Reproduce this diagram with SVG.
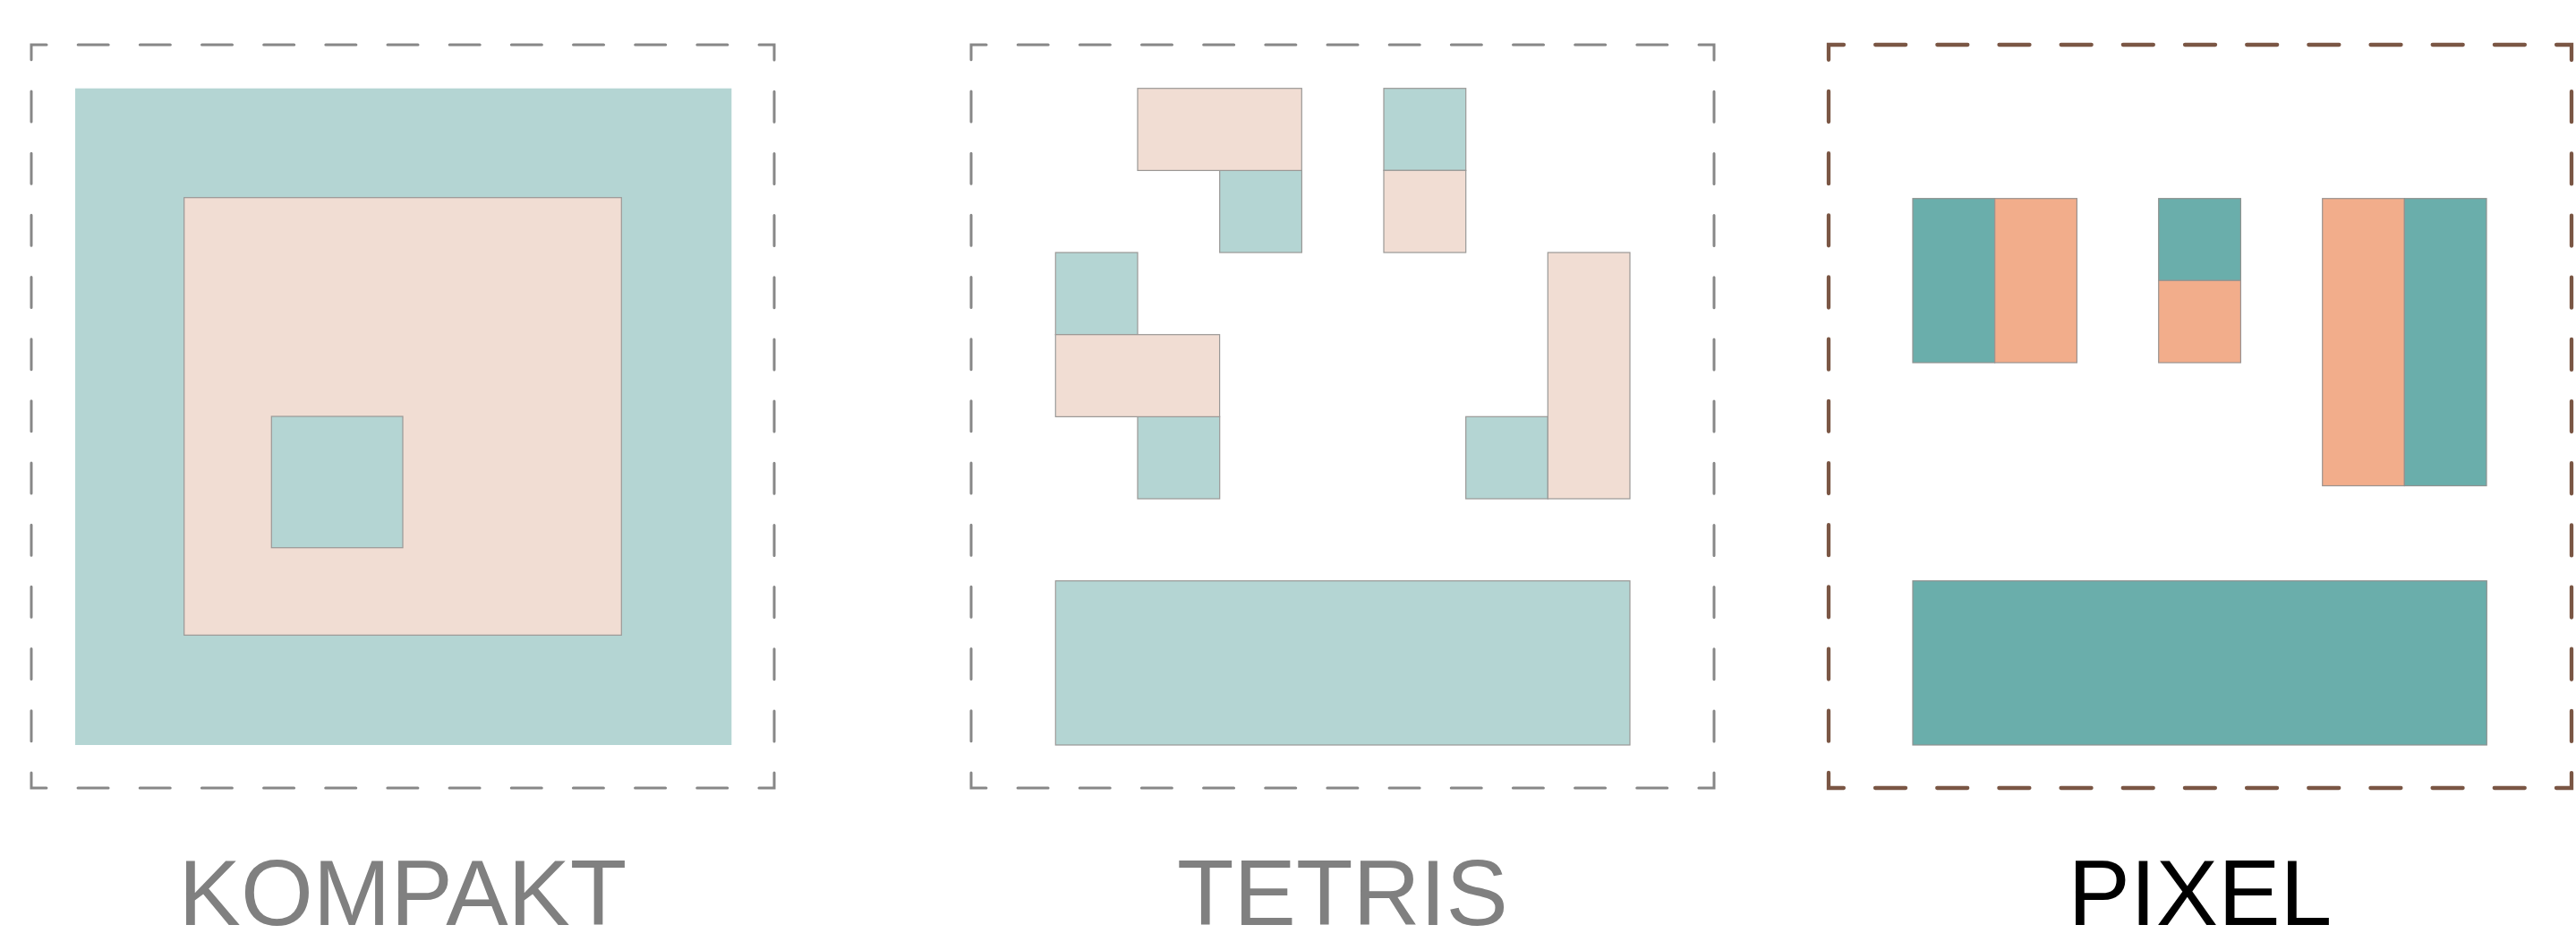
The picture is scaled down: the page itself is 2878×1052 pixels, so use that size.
<svg xmlns="http://www.w3.org/2000/svg" width="2878" height="1052" viewBox="0 0 2878 1052">
<style>
.frame{fill:none;stroke:#878787;stroke-width:3;stroke-dasharray:34 35.17;stroke-dashoffset:17;stroke-linecap:round}
.frame-b{fill:none;stroke:#7a5644;stroke-width:4.3;stroke-dasharray:34 35.17;stroke-dashoffset:17;stroke-linecap:round}
.lt{fill:#b4d5d3;stroke:#9a9896;stroke-width:1.2}
.lp{fill:#f1ddd3;stroke:#9a9896;stroke-width:1.2}
.dt{fill:#6aaeab;stroke:#8f9290;stroke-width:1.2}
.dp{fill:#f2ad8b;stroke:#9a9390;stroke-width:1.2}
.lbl{font-family:"Liberation Sans",Arial,sans-serif;font-size:104px;text-anchor:middle}
</style>
<rect width="2878" height="1052" fill="#ffffff"/>
<g id="kompakt">
<rect class="frame" x="35" y="50" width="830" height="830"/>
<rect x="84" y="98.7" width="733.3" height="733.3" fill="#b4d5d3"/>
<rect class="lp" x="205.7" y="220.7" width="488.6" height="488.6"/>
<rect class="lt" x="303.3" y="465" width="146.7" height="146.7"/>
<text class="lbl" x="450" y="1033" fill="#808080">KOMPAKT</text>
</g>
<g id="tetris">
<rect class="frame" x="1085" y="50" width="830" height="830"/>
<rect class="lt" x="1362.7" y="190.3" width="91.7" height="91.7"/>
<rect class="lp" x="1271" y="98.7" width="183.3" height="91.7"/>
<rect class="lt" x="1546" y="98.7" width="91.7" height="91.7"/>
<rect class="lp" x="1546" y="190.3" width="91.7" height="91.7"/>
<rect class="lt" x="1179.3" y="282" width="91.7" height="91.7"/>
<rect class="lt" x="1271" y="465.3" width="91.7" height="91.7"/>
<rect class="lp" x="1179.3" y="373.7" width="183.3" height="91.7"/>
<rect class="lt" x="1637.7" y="465.3" width="91.7" height="91.7"/>
<rect class="lp" x="1729.3" y="282" width="91.7" height="275"/>
<rect class="lt" x="1179.3" y="648.7" width="641.7" height="183.3"/>
<text class="lbl" x="1500" y="1033" fill="#808080">TETRIS</text>
</g>
<g id="pixel">
<rect class="frame-b" x="2043" y="50" width="830" height="830"/>
<rect class="dt" x="2137" y="221.7" width="91.7" height="183.3"/>
<rect class="dp" x="2228.7" y="221.7" width="91.7" height="183.3"/>
<rect class="dt" x="2411.7" y="221.7" width="91.7" height="91.7"/>
<rect class="dp" x="2411.7" y="313.3" width="91.7" height="91.7"/>
<rect class="dp" x="2594.7" y="221.7" width="91.7" height="320.8"/>
<rect class="dt" x="2686.3" y="221.7" width="91.7" height="320.8"/>
<rect class="dt" x="2137" y="648.7" width="641.3" height="183.3"/>
<text class="lbl" x="2458" y="1033" fill="#000000">PIXEL</text>
</g>
<g id="connectors"></g>
</svg>
